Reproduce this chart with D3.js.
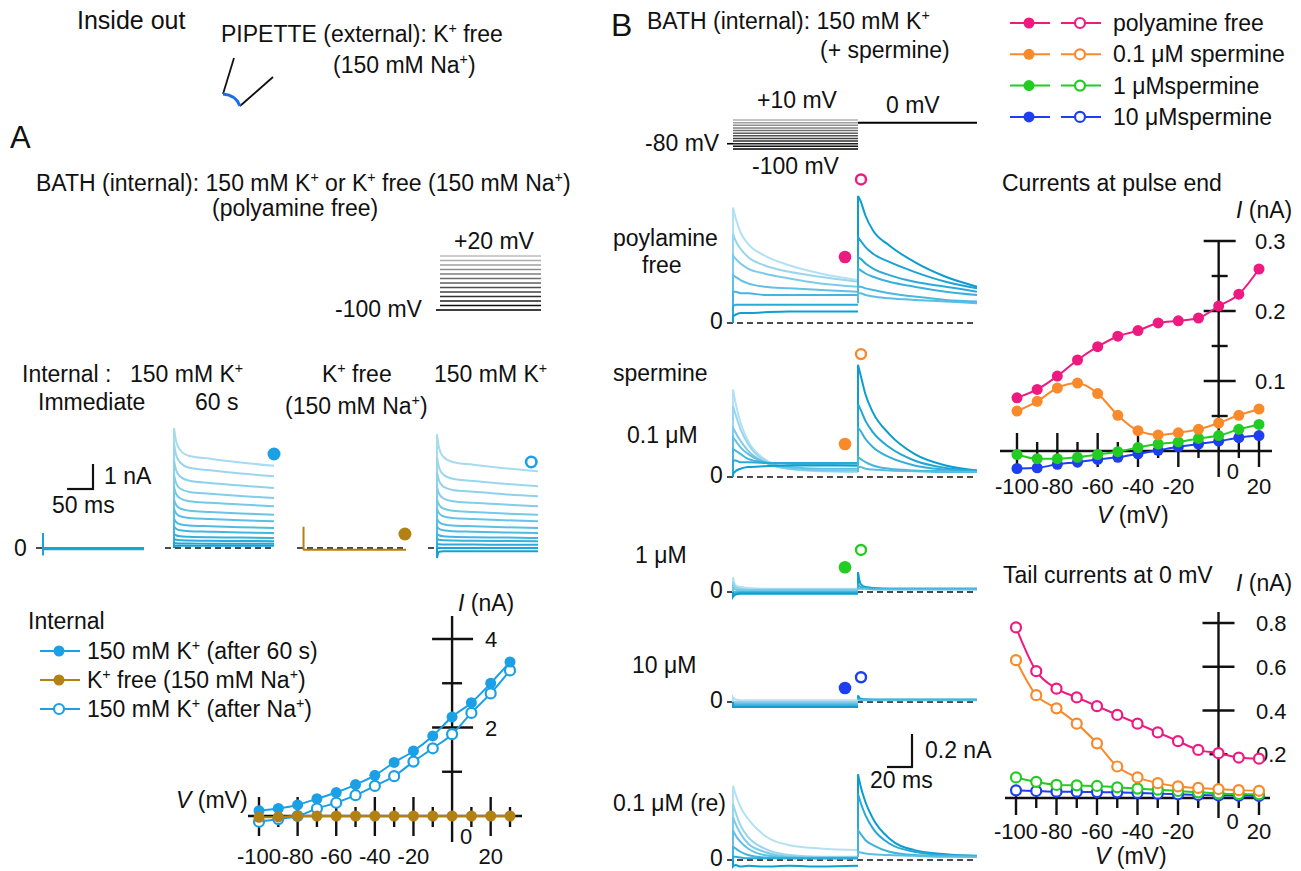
<!DOCTYPE html>
<html>
<head>
<meta charset="utf-8">
<script src="https://cdn.jsdelivr.net/npm/d3@7"></script>
<style>
  body { margin: 0; background: #fff; }
  svg text { font-family: "Liberation Sans", Arial, sans-serif; font-size: 23px; fill: #111; }
</style>
</head>
<body>
<svg id="fig" width="1301" height="871"></svg>
<script>
// ---------- panel A : I-V (nA) ----------
var ivVolt  = [-100, -90, -80, -70, -60, -50, -40, -30, -20, -10, 0, 10, 20, 30]
var ivK60   = [0.12, 0.17, 0.25, 0.39, 0.53, 0.71, 0.92, 1.21, 1.47, 1.81, 2.24, 2.56, 3.0, 3.48]
var ivKfree = [-0.03, -0.02, 0, 0, 0, 0, 0, 0, 0, 0, 0, 0, 0, 0]
var ivKre   = [-0.13, -0.07, 0, 0.17, 0.30, 0.47, 0.68, 0.90, 1.23, 1.53, 1.85, 2.33, 2.77, 3.29]

// panel A protocol (mV)
var protoA = [-100, -90, -80, -70, -60, -50, -40, -30, -20, -10, 0, 10, 20]

// panel A current traces (nA) sampled at timeA (ms); first row = +20 mV
var timeA = [0, 4, 12, 30, 70, 130, 195]
var tracesK60 = [
  [4.80, 4.28, 3.92, 3.68, 3.57, 3.42, 3.29],
  [4.19, 3.73, 3.42, 3.21, 3.11, 2.98, 2.87],
  [3.50, 3.12, 2.86, 2.69, 2.60, 2.50, 2.40],
  [2.92, 2.60, 2.38, 2.24, 2.17, 2.08, 2.00],
  [2.44, 2.17, 1.99, 1.87, 1.81, 1.74, 1.67],
  [1.94, 1.73, 1.58, 1.49, 1.44, 1.38, 1.33],
  [1.56, 1.39, 1.27, 1.20, 1.16, 1.11, 1.07],
  [1.17, 1.04, 0.95, 0.90, 0.87, 0.83, 0.80],
  [0.86, 0.77, 0.71, 0.67, 0.65, 0.62, 0.60],
  [0.56, 0.51, 0.47, 0.45, 0.43, 0.42, 0.40],
  [0.36, 0.33, 0.31, 0.30, 0.29, 0.28, 0.27],
  [0.20, 0.19, 0.18, 0.18, 0.17, 0.17, 0.17],
  [0.08, 0.09, 0.09, 0.09, 0.09, 0.09, 0.09]
]
var tracesKre = [
  [4.55, 4.00, 3.65, 3.44, 3.33, 3.19, 3.07],
  [3.62, 3.22, 2.94, 2.77, 2.68, 2.57, 2.47],
  [3.02, 2.69, 2.46, 2.32, 2.25, 2.15, 2.07],
  [2.44, 2.17, 1.99, 1.87, 1.81, 1.74, 1.67],
  [1.94, 1.73, 1.58, 1.49, 1.44, 1.38, 1.33],
  [1.56, 1.39, 1.27, 1.20, 1.16, 1.11, 1.07],
  [1.17, 1.04, 0.95, 0.90, 0.87, 0.83, 0.80],
  [0.86, 0.77, 0.71, 0.67, 0.65, 0.62, 0.60],
  [0.56, 0.51, 0.47, 0.45, 0.43, 0.42, 0.40],
  [0.36, 0.33, 0.31, 0.30, 0.29, 0.28, 0.27],
  [0.16, 0.15, 0.14, 0.14, 0.14, 0.13, 0.13],
  [0.02, 0.01, 0.0, 0.0, 0.0, 0.0, 0.0],
  [-0.40, -0.15, -0.13, -0.13, -0.13, -0.13, -0.13]
]
var tracesImm = [
  [-0.05, -0.05, -0.05, -0.05, -0.05, -0.05, -0.05],
  [-0.02, -0.02, -0.02, -0.02, -0.02, -0.02, -0.02],
  [0.0, 0.0, 0.0, 0.0, 0.0, 0.0, 0.0]
]
var spikeImm = [0.6, -0.3]
var tracesKfree = [[-0.07, -0.07, -0.07, -0.07, -0.07, -0.07, -0.07]]
var spikeKfree = [-0.07, 0.85]

// ---------- panel B : I-V (nA) ----------
var bVolt = [-100, -90, -80, -70, -60, -50, -40, -30, -20, -10, 0, 10, 20]
var endFree = [0.076, 0.088, 0.107, 0.13, 0.149, 0.164, 0.172, 0.183, 0.186, 0.19, 0.207, 0.224, 0.26]
var endSp01 = [0.057, 0.071, 0.09, 0.097, 0.082, 0.051, 0.029, 0.023, 0.026, 0.031, 0.04, 0.051, 0.06]
var endSp1  = [-0.005, -0.011, -0.011, -0.009, -0.005, -0.001, 0.005, 0.01, 0.013, 0.018, 0.022, 0.031, 0.038]
var endSp10 = [-0.025, -0.024, -0.019, -0.016, -0.012, -0.009, -0.004, 0.001, 0.006, 0.01, 0.014, 0.019, 0.022]
var tailFree = [0.78, 0.58, 0.50, 0.46, 0.42, 0.38, 0.34, 0.30, 0.26, 0.22, 0.205, 0.185, 0.18]
var tailSp01 = [0.63, 0.47, 0.41, 0.34, 0.25, 0.144, 0.094, 0.068, 0.053, 0.046, 0.041, 0.036, 0.033]
var tailSp1  = [0.094, 0.074, 0.06, 0.058, 0.055, 0.049, 0.043, 0.038, 0.032, 0.026, 0.021, 0.018, 0.017]
var tailSp10 = [0.035, 0.032, 0.029, 0.029, 0.027, 0.026, 0.023, 0.02, 0.017, 0.014, 0.012, 0.011, 0.009]

var protoB = [-100, -90, -80, -70, -60, -50, -40, -30, -20, -10, 0, 10]

// panel B traces (nA): steps sampled at stepT, tails at tailT (ms)
var stepT = [0, 2, 6, 12, 25, 45, 70, 100]
var tailT = [0, 2, 6, 12, 25, 45, 70, 95]
var freeStep = [
  [0.70, 0.64, 0.55, 0.48, 0.41, 0.35, 0.30, 0.26],
  [0.54, 0.50, 0.45, 0.40, 0.35, 0.31, 0.28, 0.25],
  [0.41, 0.39, 0.36, 0.33, 0.30, 0.27, 0.24, 0.22],
  [0.29, 0.28, 0.26, 0.24, 0.22, 0.21, 0.20, 0.19],
  [0.19, 0.19, 0.18, 0.18, 0.17, 0.17, 0.17, 0.17],
  [0.10, 0.11, 0.11, 0.11, 0.11, 0.11, 0.11, 0.11],
  [0.04, 0.05, 0.06, 0.06, 0.065, 0.07, 0.07, 0.07]
]
var freeTail = [
  [0.77, 0.74, 0.65, 0.56, 0.47, 0.37, 0.28, 0.22],
  [0.52, 0.50, 0.46, 0.42, 0.37, 0.31, 0.25, 0.21],
  [0.40, 0.39, 0.36, 0.33, 0.29, 0.25, 0.22, 0.19],
  [0.33, 0.32, 0.30, 0.28, 0.25, 0.22, 0.19, 0.17],
  [0.22, 0.22, 0.21, 0.20, 0.18, 0.16, 0.14, 0.13],
  [0.18, 0.18, 0.17, 0.16, 0.15, 0.14, 0.13, 0.12]
]
var sp01Step = [
  [0.53, 0.45, 0.33, 0.22, 0.11, 0.05, 0.035, 0.03],
  [0.43, 0.38, 0.29, 0.20, 0.10, 0.05, 0.04, 0.035],
  [0.30, 0.27, 0.22, 0.16, 0.09, 0.05, 0.04, 0.04],
  [0.24, 0.22, 0.18, 0.14, 0.09, 0.06, 0.05, 0.05],
  [0.17, 0.16, 0.14, 0.11, 0.09, 0.08, 0.075, 0.07],
  [0.10, 0.10, 0.09, 0.09, 0.085, 0.085, 0.085, 0.085],
  [0.02, 0.035, 0.05, 0.06, 0.065, 0.07, 0.07, 0.07]
]
var sp01Tail = [
  [0.68, 0.62, 0.50, 0.39, 0.26, 0.14, 0.07, 0.04],
  [0.44, 0.41, 0.34, 0.27, 0.18, 0.10, 0.055, 0.04],
  [0.30, 0.28, 0.23, 0.18, 0.12, 0.07, 0.045, 0.035],
  [0.12, 0.11, 0.09, 0.07, 0.05, 0.04, 0.035, 0.03],
  [0.06, 0.06, 0.05, 0.045, 0.04, 0.035, 0.03, 0.03]
]
var sp1Step = [
  [0.09, 0.04, 0.03, 0.025, 0.02, 0.02, 0.02, 0.02],
  [0.06, 0.03, 0.02, 0.015, 0.015, 0.015, 0.015, 0.015],
  [0.03, 0.015, 0.01, 0.01, 0.01, 0.01, 0.01, 0.01],
  [0.0, 0.0, 0.0, 0.0, 0.0, 0.0, 0.0, 0.0],
  [-0.02, -0.01, -0.005, -0.005, -0.005, -0.005, -0.005, -0.005],
  [-0.03, -0.015, -0.01, -0.01, -0.01, -0.01, -0.01, -0.01]
]
var sp1Tail = [
  [0.12, 0.05, 0.03, 0.025, 0.02, 0.02, 0.02, 0.02],
  [0.05, 0.03, 0.025, 0.02, 0.02, 0.02, 0.02, 0.02],
  [0.02, 0.02, 0.02, 0.015, 0.015, 0.015, 0.015, 0.015]
]
var sp10Step = [
  [0.03, 0.015, 0.01, 0.01, 0.01, 0.01, 0.01, 0.01],
  [0.0, 0.0, 0.0, 0.0, 0.0, 0.0, 0.0, 0.0],
  [-0.01, -0.01, -0.01, -0.01, -0.01, -0.01, -0.01, -0.01],
  [-0.02, -0.02, -0.02, -0.02, -0.02, -0.02, -0.02, -0.02],
  [-0.03, -0.03, -0.03, -0.03, -0.03, -0.03, -0.03, -0.03]
]
var sp10Tail = [
  [0.04, 0.02, 0.016, 0.015, 0.015, 0.015, 0.015, 0.015],
  [0.015, 0.012, 0.01, 0.01, 0.01, 0.01, 0.01, 0.01]
]
var reStep = [
  [0.45, 0.40, 0.32, 0.25, 0.15, 0.09, 0.07, 0.06],
  [0.34, 0.29, 0.21, 0.14, 0.07, 0.03, 0.02, 0.02],
  [0.26, 0.22, 0.16, 0.10, 0.05, 0.02, 0.015, 0.015],
  [0.18, 0.15, 0.11, 0.07, 0.03, 0.015, 0.01, 0.01],
  [0.08, 0.07, 0.05, 0.03, 0.015, 0.01, 0.01, 0.01],
  [0.02, 0.02, 0.015, 0.01, 0.01, 0.01, 0.01, 0.01],
  [-0.04, -0.03, -0.04, -0.035, -0.04, -0.035, -0.04, -0.035]
]
var reTail = [
  [0.52, 0.45, 0.35, 0.25, 0.13, 0.06, 0.035, 0.025],
  [0.40, 0.35, 0.27, 0.19, 0.10, 0.05, 0.03, 0.025],
  [0.18, 0.16, 0.12, 0.09, 0.05, 0.03, 0.025, 0.02],
  [0.05, 0.045, 0.04, 0.035, 0.03, 0.025, 0.02, 0.02]
]

var cPink = "#ee1a80", cOrange = "#f88a2c", cGreen = "#22cc22", cBlue = "#1e3ff0"
var cAzure = "#1ba0e6", cBrown = "#b38013"

var svg = d3.select("#fig")

// text with ^x superscripts and *italic* parts
function rich(g, x, y, s, size, anchor) {
  size = size || 23
  var t = g.append("text").attr("x", x).attr("y", y)
            .style("font-size", size + "px")
            .attr("text-anchor", anchor || "start")
  var pend = 0
  s.split(/(\^.|\*[^*]+\*)/).filter(function(p) { return p !== "" }).forEach(function(p) {
    if (p[0] === "^") {
      t.append("tspan").attr("dy", -size * 0.38).style("font-size", (size * 0.62) + "px").text(p[1])
      pend = size * 0.38
    } else if (p[0] === "*") {
      t.append("tspan").attr("dy", pend).style("font-style", "italic").text(p.slice(1, -1)); pend = 0
    } else {
      t.append("tspan").attr("dy", pend).text(p); pend = 0
    }
  })
  return t
}

function hline(g, x1, x2, y, col, w, dash) {
  return g.append("line").attr("x1", x1).attr("x2", x2).attr("y1", y).attr("y2", y)
          .attr("stroke", col || "#111").attr("stroke-width", w || 1.5)
          .attr("stroke-dasharray", dash || null)
}
function vline(g, x, y1, y2, col, w) {
  return g.append("line").attr("x1", x).attr("x2", x).attr("y1", y1).attr("y2", y2)
          .attr("stroke", col || "#111").attr("stroke-width", w || 1.5)
}

// draw one trace: vertical jump from base, then sampled values
function trace(g, xs, ys, times, vals, base, col, w) {
  var line = d3.line().x(function(d, i) { return xs(times[i]) }).y(function(d) { return ys(d) })
                .curve(d3.curveMonotoneX)
  g.append("path")
    .attr("d", "M" + xs(times[0]) + "," + ys(base) + line(vals).replace(/^M/, "L"))
    .attr("fill", "none").attr("stroke", col).attr("stroke-width", w || 2)
}

// ======================= top texts / pipette =======================
var gHead = svg.append("g")
rich(gHead, 77, 29, "Inside out", 25)
rich(gHead, 221, 42, "PIPETTE (external): K^+ free")
rich(gHead, 333, 73, "(150 mM Na^+)")
gHead.append("path").attr("d", "M234,58 L223,94").attr("stroke", "#111").attr("stroke-width", 1.8).attr("fill", "none")
gHead.append("path").attr("d", "M240,106 L273,77").attr("stroke", "#111").attr("stroke-width", 1.8).attr("fill", "none")
gHead.append("path").attr("d", "M223,94 Q236,95 240,106").attr("stroke", "#1a6ee8").attr("stroke-width", 3.2).attr("fill", "none")

// ======================= panel A =======================
var pa = svg.append("g")
rich(pa, 10, 148, "A", 31)
rich(pa, 36, 191, "BATH (internal): 150 mM K^+ or K^+ free (150 mM Na^+)")
rich(pa, 212, 216, "(polyamine free)")

// protocol
var pyA = d3.scaleLinear().domain([-100, 20]).range([310, 256])
var greyA = d3.scaleLinear().domain([-100, 20]).range(["#000", "#bdbdbd"])
protoA.forEach(function(v) { hline(pa, 440, 541, pyA(v), greyA(v), 1.6) })
hline(pa, 436, 440, pyA(-100), "#000", 1.6)
rich(pa, 454, 249, "+20 mV")
rich(pa, 335, 317, "-100 mV")

rich(pa, 22, 382, "Internal :")
rich(pa, 130, 382, "150 mM K^+")
rich(pa, 322, 382, "K^+ free")
rich(pa, 434, 382, "150 mM K^+")
rich(pa, 38, 410, "Immediate")
rich(pa, 195, 410, "60 s")
rich(pa, 285, 414, "(150 mM Na^+)")

// traces
var yTA = d3.scaleLinear().domain([0, 1]).range([548, 523])
var traceCol = d3.interpolateRgb("#a6dbf0", "#10a2d8")
var groupsA = [
  {x0: 43, x1: 144, d0: 36},
  {x0: 174, x1: 274, d0: 165},
  {x0: 303, x1: 406, d0: 297},
  {x0: 437, x1: 538, d0: 428}
]
var xTA = groupsA.map(function(gr) { return d3.scaleLinear().domain([0, 195]).range([gr.x0, gr.x1]) })

groupsA.forEach(function(gr) { hline(pa, gr.d0, gr.x1, yTA(0), "#111", 1.6, "6,4") })

tracesImm.forEach(function(v) { trace(pa, xTA[0], yTA, timeA, v, v[0], "#1aa3d8", 2) })
vline(pa, xTA[0](0), yTA(spikeImm[0]), yTA(spikeImm[1]), "#1aa3d8", 2)

tracesK60.forEach(function(v, i) { trace(pa, xTA[1], yTA, timeA, v, 0, traceCol(i / 12), 2) })
tracesKfree.forEach(function(v) { trace(pa, xTA[2], yTA, timeA, v, v[0], cBrown, 2.2) })
vline(pa, xTA[2](1), yTA(spikeKfree[0]), yTA(spikeKfree[1]), cBrown, 2)
tracesKre.forEach(function(v, i) { trace(pa, xTA[3], yTA, timeA, v, 0, traceCol(i / 12), 2) })

pa.append("circle").attr("cx", xTA[1](195)).attr("cy", yTA(3.76)).attr("r", 6.5).attr("fill", cAzure)
pa.append("circle").attr("cx", xTA[2](193)).attr("cy", yTA(0.56)).attr("r", 6.5).attr("fill", cBrown)
pa.append("circle").attr("cx", xTA[3](182)).attr("cy", yTA(3.44)).attr("r", 5.2).attr("fill", "#fff")
  .attr("stroke", cAzure).attr("stroke-width", 2.6)

// scale bar 1 nA / 50 ms
vline(pa, 93, yTA(0) - 59, yTA(1) - 59, "#111", 2.2)
hline(pa, 93 - (xTA[0](50) - xTA[0](0)), 93 + 1, yTA(0) - 59, "#111", 2.2)
rich(pa, 104, 484, "1 nA")
rich(pa, 52, 513, "50 ms")
rich(pa, 14, 556, "0")

// ---------- generic cross axes ----------
function crossAxes(g, o) {
  hline(g, o.xa[0], o.xa[1], o.ys(0), "#111", 2.4)
  vline(g, o.xs(0), o.ya[0], o.ya[1], "#111", 2.4)
  o.xMajor.forEach(function(v) { vline(g, o.xs(v), o.ys(0) - o.xTick[0], o.ys(0) + o.xTick[1], "#111", 2.4) })
  o.xMinor.forEach(function(v) { vline(g, o.xs(v), o.ys(0) - o.xTick[2], o.ys(0) + o.xTick[3], "#111", 2.4) })
  o.yMajor.forEach(function(v) { hline(g, o.xs(0) - o.yTick[0], o.xs(0) + o.yTick[1], o.ys(v), "#111", 2.4) })
  o.yMinor.forEach(function(v) { hline(g, o.xs(0) - o.yTick[2], o.xs(0) + o.yTick[3], o.ys(v), "#111", 2.4) })
  o.xMajor.forEach(function(v) { rich(g, o.xs(v), o.xLabY, String(v), 22, "middle") })
  rich(g, o.xs(0) + 8, o.zeroY, "0", 22)
  o.yLabels.forEach(function(v) { rich(g, o.yLabX, o.ys(v) + 8, o.fmt(v), 22) })
}

function series(g, xs, ys, volts, vals, col, open, r) {
  var line = d3.line().x(function(d, i) { return xs(volts[i]) }).y(function(d) { return ys(d) })
                .curve(d3.curveMonotoneX)
  g.append("path").datum(vals).attr("d", line).attr("fill", "none").attr("stroke", col).attr("stroke-width", 2)
  g.selectAll(null).data(vals).join("circle")
    .attr("cx", function(d, i) { return xs(volts[i]) })
    .attr("cy", function(d) { return ys(d) })
    .attr("r", r)
    .attr("fill", open ? "#fff" : col)
    .attr("stroke", col).attr("stroke-width", open ? 2.2 : 0)
}

// ---------- panel A IV ----------
var ivx = d3.scaleLinear().domain([-100, 30]).range([259, 510])
var ivy = d3.scaleLinear().domain([0, 4]).range([816, 639])
crossAxes(pa, {
  xs: ivx, ys: ivy, xa: [248, 522], ya: [616, 842],
  xMajor: [-100, -80, -60, -40, -20, 20], xMinor: [-90, -70, -50, -30, -10, 10, 30],
  xTick: [19, 20, 9, 11], yMajor: [2, 4], yMinor: [1, 3], yTick: [20, 21, 10, 10],
  xLabY: 864, zeroY: 844, yLabels: [2, 4], yLabX: 485, fmt: function(v) { return String(v) }
})
rich(pa, 458, 611, "*I* (nA)")
rich(pa, 176, 808, "*V* (mV)")
series(pa, ivx, ivy, ivVolt, ivKre, cAzure, true, 5)
series(pa, ivx, ivy, ivVolt, ivK60, cAzure, false, 5.5)
series(pa, ivx, ivy, ivVolt, ivKfree, cBrown, false, 5.5)

// legend A
rich(pa, 28, 629, "Internal")
var legA = [
  {t: "150 mM K^+ (after 60 s)", c: cAzure, open: false},
  {t: "K^+ free (150 mM Na^+)", c: cBrown, open: false},
  {t: "150 mM K^+ (after Na^+)", c: cAzure, open: true}
]
legA.forEach(function(d, i) {
  var y = 651 + i * 29
  hline(pa, 40, 80, y, d.c, 2)
  pa.append("circle").attr("cx", 59).attr("cy", y).attr("r", d.open ? 5 : 5.5)
    .attr("fill", d.open ? "#fff" : d.c).attr("stroke", d.c).attr("stroke-width", d.open ? 2.2 : 0)
  rich(pa, 87, y + 8, d.t)
})

// ======================= panel B traces =======================
var pb = svg.append("g")
rich(pb, 611, 36, "B", 32)
rich(pb, 647, 29, "BATH (internal): 150 mM K^+")
rich(pb, 820, 58, "(+ spermine)")

var pyB = d3.scaleLinear().domain([-100, 10]).range([149, 120])
var greyB = d3.scaleLinear().domain([-100, 10]).range(["#000", "#b0b0b0"])
protoB.forEach(function(v) { hline(pb, 733, 858, pyB(v), greyB(v), 1.5) })
hline(pb, 727, 733, pyB(-80), "#000", 1.6)
hline(pb, 858, 977, pyB(0), "#000", 2)
rich(pb, 757, 108, "+10 mV")
rich(pb, 886, 113, "0 mV")
rich(pb, 645, 151, "-80 mV")
rich(pb, 752, 174, "-100 mV")

var xStep = d3.scaleLinear().domain([0, 100]).range([733, 858])
var xTail = d3.scaleLinear().domain([0, 95]).range([858, 977])
var nAperPx = 165
var rowsB = [
  {zero: 323, step: freeStep, tail: freeTail, c: cPink, fill: 0.40, open: 0.87},
  {zero: 477, step: sp01Step, tail: sp01Tail, c: cOrange, fill: 0.20, open: 0.745},
  {zero: 592, step: sp1Step, tail: sp1Tail, c: cGreen, fill: 0.15, open: 0.255},
  {zero: 702, step: sp10Step, tail: sp10Tail, c: cBlue, fill: 0.085, open: 0.15},
  {zero: 860, step: reStep, tail: reTail, c: null}
]
var stepCol = d3.interpolateRgb("#b3e1f3", "#0e9fd2")
var tailCol = d3.interpolateRgb("#0c9dd0", "#7ccbea")
rowsB.forEach(function(r) {
  var ys = d3.scaleLinear().domain([0, 1]).range([r.zero, r.zero - nAperPx])
  hline(pb, 727, 977, ys(0), "#111", 1.6, "6,4")
  rich(pb, 710, r.zero + 6, "0")
  r.step.forEach(function(v, i) { trace(pb, xStep, ys, stepT, v, 0, stepCol(i / (r.step.length - 1)), 2) })
  r.tail.forEach(function(v, i) {
    trace(pb, xTail, ys, tailT, v, v[v.length - 1], tailCol(r.tail.length > 1 ? i / (r.tail.length - 1) * 0.7 : 0), 2)
  })
  if (r.c) {
    pb.append("circle").attr("cx", 845).attr("cy", ys(r.fill)).attr("r", 6.3).attr("fill", r.c)
    pb.append("circle").attr("cx", 861).attr("cy", ys(r.open)).attr("r", 5).attr("fill", "#fff")
      .attr("stroke", r.c).attr("stroke-width", 2.4)
  }
})
rich(pb, 613, 246, "poylamine")
rich(pb, 642, 273, "free")
rich(pb, 613, 381, "spermine")
rich(pb, 627, 443, "0.1 \u03bcM")
rich(pb, 635, 563, "1 \u03bcM")
rich(pb, 632, 673, "10 \u03bcM")
rich(pb, 613, 811, "0.1 \u03bcM (re)")

// scale bar 0.2 nA / 20 ms
vline(pb, 912, 767, 767 - 0.2 * nAperPx, "#111", 2.2)
hline(pb, 912 - (xStep(20) - xStep(0)), 913, 767, "#111", 2.2)
rich(pb, 925, 758, "0.2 nA")
rich(pb, 870, 788, "20 ms")

// ======================= right plots =======================
var pr = svg.append("g")
var legB = [
  {t: "polyamine free", c: cPink},
  {t: "0.1 \u03bcM spermine", c: cOrange},
  {t: "1 \u03bcMspermine", c: cGreen},
  {t: "10 \u03bcMspermine", c: cBlue}
]
legB.forEach(function(d, i) {
  var y = 23 + i * 31.3
  hline(pr, 1010, 1050, y, d.c, 2)
  pr.append("circle").attr("cx", 1029).attr("cy", y).attr("r", 5.5).attr("fill", d.c)
  hline(pr, 1061, 1101, y, d.c, 2)
  pr.append("circle").attr("cx", 1080).attr("cy", y).attr("r", 5).attr("fill", "#fff")
    .attr("stroke", d.c).attr("stroke-width", 2.2)
  rich(pr, 1113, y + 8, d.t)
})

// pulse end
var px = d3.scaleLinear().domain([-100, 20]).range([1017, 1259])
var pyE = d3.scaleLinear().domain([0, 0.3]).range([451, 241])
rich(pr, 1002, 191, "Currents at pulse end")
rich(pr, 1236, 218, "*I* (nA)")
crossAxes(pr, {
  xs: px, ys: pyE, xa: [1000, 1272], ya: [241, 477],
  xMajor: [-100, -80, -60, -40, -20, 20], xMinor: [-90, -70, -50, -30, -10, 10],
  xTick: [18, 16, 9, 7], yMajor: [0.1, 0.2, 0.3], yMinor: [0.05, 0.15, 0.25], yTick: [15, 17, 7, 9],
  xLabY: 494, zeroY: 479, yLabels: [0.1, 0.2, 0.3], yLabX: 1255, fmt: d3.format(".1f")
})
rich(pr, 1097, 523, "*V* (mV)")
series(pr, px, pyE, bVolt, endSp10, cBlue, false, 5.5)
series(pr, px, pyE, bVolt, endSp1, cGreen, false, 5.5)
series(pr, px, pyE, bVolt, endSp01, cOrange, false, 5.5)
series(pr, px, pyE, bVolt, endFree, cPink, false, 5.5)

// tail currents
var pxT = d3.scaleLinear().domain([-100, 20]).range([1016, 1259])
var pyT = d3.scaleLinear().domain([0, 0.8]).range([798, 623])
rich(pr, 1003, 583, "Tail currents at 0 mV")
rich(pr, 1236, 591, "*I* (nA)")
crossAxes(pr, {
  xs: pxT, ys: pyT, xa: [1005, 1270], ya: [612, 818],
  xMajor: [-100, -80, -60, -40, -20, 20], xMinor: [-90, -70, -50, -30, -10, 10],
  xTick: [10, 17, 5, 10], yMajor: [0.4, 0.6, 0.8], yMinor: [0.2], yTick: [16, 16, 9, 9],
  xLabY: 839, zeroY: 829, yLabels: [0.2, 0.4, 0.6, 0.8], yLabX: 1256, fmt: d3.format(".1f")
})
rich(pr, 1095, 864, "*V* (mV)")
series(pr, pxT, pyT, bVolt, tailSp10, cBlue, true, 5)
series(pr, pxT, pyT, bVolt, tailSp1, cGreen, true, 5)
series(pr, pxT, pyT, bVolt, tailSp01, cOrange, true, 5)
series(pr, pxT, pyT, bVolt, tailFree, cPink, true, 5)
</script>
</body>
</html>
